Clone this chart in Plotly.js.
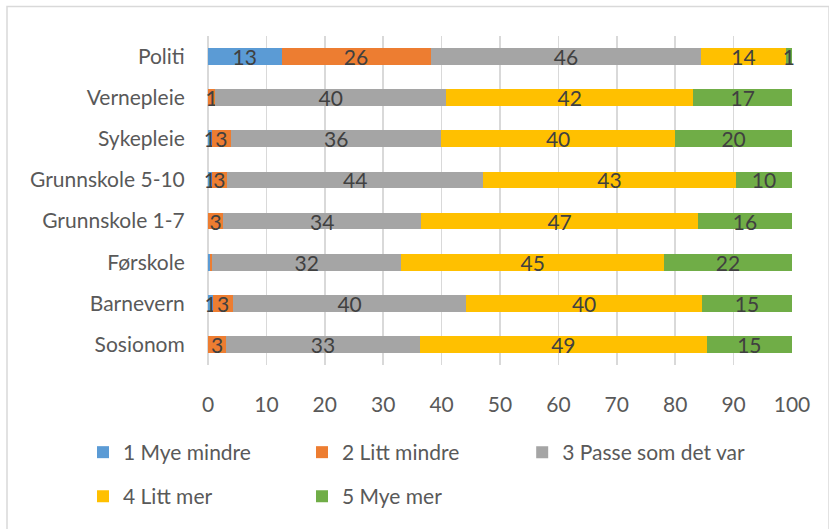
<!DOCTYPE html>
<html>
<head>
<meta charset="utf-8">
<script src="https://cdn.plot.ly/plotly-3.0.1.min.js"></script>
<style>
  body { margin: 0; background: #fff; }
  #chart { width: 829px; height: 529px; }
</style>
</head>
<body>
<div id="chart"></div>
<script>
// categories, top to bottom as in the picture
const categories = ['Politi', 'Vernepleie', 'Sykepleie', 'Grunnskole 5-10',
  'Grunnskole 1-7', 'Førskole', 'Barnevern', 'Sosionom'];

const seriesNames = ['1 Mye mindre', '2 Litt mindre', '3 Passe som det var', '4 Litt mer', '5 Mye mer'];
const seriesColors = ['#5B9BD5', '#ED7D31', '#A5A5A5', '#FFC000', '#70AD47'];

// percent per category (same order as categories)
const myeMindre  = [12.6, 0,    0.6,  0.6,  0,    0.3,  0.9,  0];
const littMindre = [25.5, 1.2,  3.4,  2.7,  2.6,  0.4,  3.4,  3.1];
const passe      = [46.4, 39.6, 35.9, 43.8, 33.9, 32.4, 39.9, 33.2];
const littMer    = [14.4, 42.3, 40.1, 43.3, 47.4, 45.0, 40.4, 49.1];
const myeMer     = [1.1,  16.9, 20.0, 9.6,  16.1, 21.9, 15.4, 14.6];

const seriesValues = [myeMindre, littMindre, passe, littMer, myeMer];

const font = 'Lato, "Open Sans", sans-serif';
const fs = 21;

// one legend per entry so each can sit in its own column
const legendPos = [
  {x: -0.214, y: -0.266},
  {x: 0.161, y: -0.266},
  {x: 0.538, y: -0.266},
  {x: -0.214, y: -0.40},
  {x: 0.161, y: -0.40}
];

const traces = seriesNames.map((name, i) => ({
  type: 'bar',
  orientation: 'h',
  name: name,
  y: categories,
  x: seriesValues[i],
  marker: {color: seriesColors[i]},
  text: seriesValues[i].map(v => v >= 0.5 ? String(Math.round(v)) : ''),
  textposition: 'inside',
  insidetextanchor: 'middle',
  textangle: 0,
  constraintext: 'none',
  cliponaxis: false,
  textfont: {family: font, size: fs, color: '#404040'},
  hoverinfo: 'x+name',
  legend: i === 0 ? 'legend' : 'legend' + (i + 1)
}));

const layout = {
  width: 829,
  height: 529,
  margin: {l: 208, r: 37, t: 36, b: 158},
  barmode: 'stack',
  bargap: 0.59,
  plot_bgcolor: '#fff',
  paper_bgcolor: '#fff',
  font: {family: font, size: fs, color: '#595959'},
  xaxis: {
    range: [0, 100],
    dtick: 10,
    showgrid: true,
    gridcolor: '#D9D9D9',
    gridwidth: 1.5,
    zeroline: true,
    zerolinecolor: '#D9D9D9',
    zerolinewidth: 1.5,
    ticks: 'outside',
    ticklen: 21,
    tickcolor: 'rgba(0,0,0,0)',
    tickfont: {family: font, size: fs, color: '#595959'},
    fixedrange: true
  },
  yaxis: {
    autorange: 'reversed',
    showgrid: false,
    ticks: 'outside',
    ticklen: 18,
    tickcolor: 'rgba(0,0,0,0)',
    tickfont: {family: font, size: fs, color: '#595959'},
    fixedrange: true
  },
  shapes: [{
    type: 'rect', xref: 'paper', yref: 'paper', layer: 'below',
    x0: (7 - 208) / 584, x1: (829 - 208) / 584,
    y0: (371 - 540) / 335, y1: 1 + 30 / 335,
    line: {color: '#D9D9D9', width: 1.5}
  }],
  showlegend: true
};

legendPos.forEach((p, i) => {
  const key = i === 0 ? 'legend' : 'legend' + (i + 1);
  layout[key] = {
    x: p.x, y: p.y,
    xanchor: 'left', yanchor: 'middle',
    bgcolor: 'rgba(0,0,0,0)',
    font: {family: font, size: fs, color: '#595959'},
    itemwidth: 30
  };
});

Plotly.newPlot('chart', traces, layout, {displayModeBar: false, staticPlot: true});
</script>
</body>
</html>
